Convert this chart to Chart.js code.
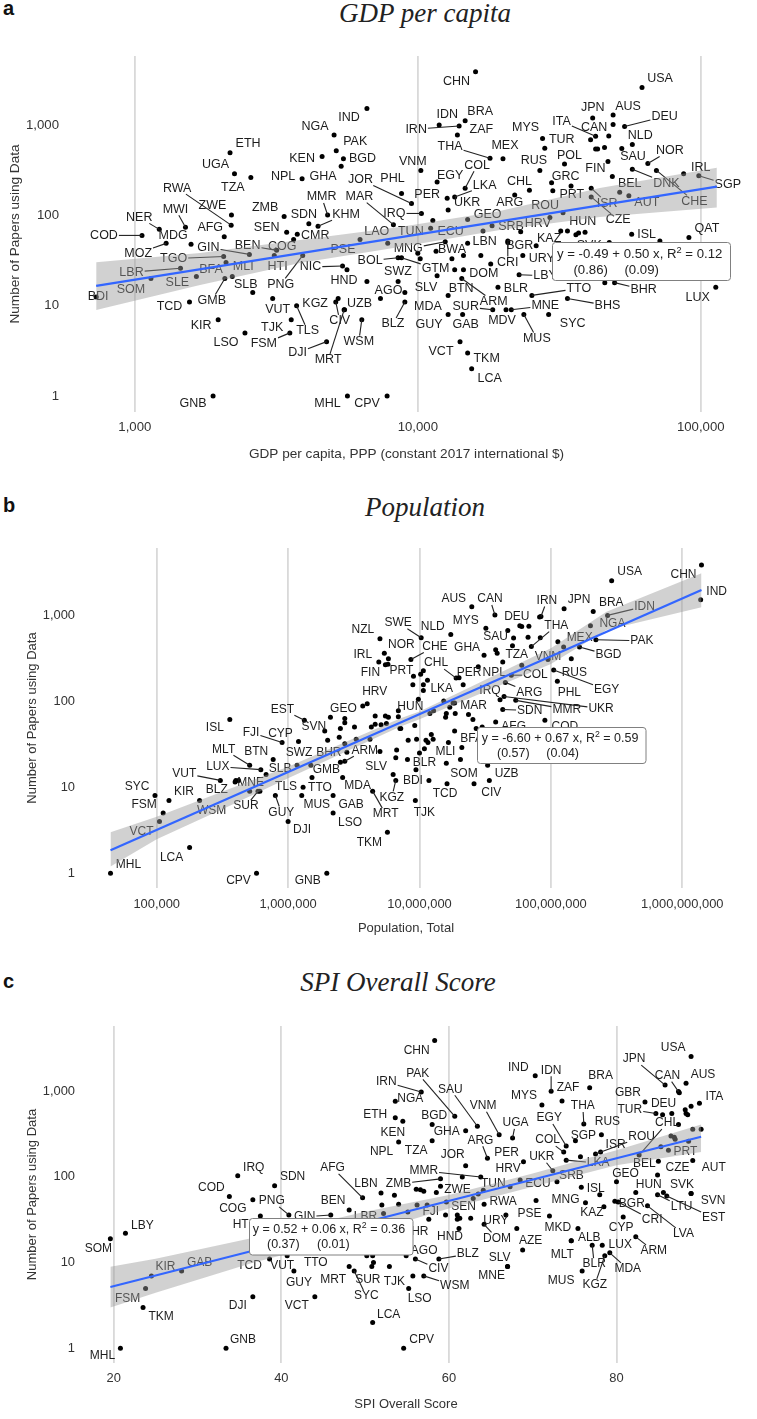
<!DOCTYPE html>
<html>
<head>
<meta charset="utf-8">
<title>Papers using data by country</title>
<script src="https://cdn.jsdelivr.net/npm/chart.js@4"></script>
<style>
  html, body { margin: 0; padding: 0; background: #fff; }
  body { position: relative; width: 757px; height: 1419px; overflow: hidden; }
  canvas { position: absolute; left: 0; }
  .titulo { position: absolute; font: italic 27px "Liberation Serif", serif; color: #222; white-space: nowrap; transform: translateX(-50%); line-height: 30px; }
  .letra { position: absolute; left: 3px; font: bold 20px "Liberation Sans", sans-serif; color: #111; line-height: 22px; }
</style>
</head>
<body>
<div class="letra" style="top:-3px">a</div>
<div class="titulo" style="left:425px;top:-2px">GDP per capita</div>
<canvas id="graficaA" width="757" height="475" style="top:0"></canvas>
<div class="letra" style="top:494px">b</div>
<div class="titulo" style="left:425px;top:492px">Population</div>
<canvas id="graficaB" width="757" height="470" style="top:480px"></canvas>
<div class="letra" style="top:970px">c</div>
<div class="titulo" style="left:398px;top:967px">SPI Overall Score</div>
<canvas id="graficaC" width="757" height="469" style="top:950px"></canvas>

<script>
// Panel a: papers against GDP per capita
const gdpCodes = [
  "IND","NGA","ETH","PAK","KEN","BGD","UGA","GHA","NPL","TZA",
  "JOR","PHL","MMR","KHM","MAR","IRQ","RWA","ZWE","ZMB","SDN",
  "SEN","CMR","NER","MWI","AFG","COD","MDG","MOZ","GIN","TGO",
  "BEN","COG","HTI","PSE","LAO","PNG","LBR","BFA","MLI","SLE",
  "SOM","SLB","GMB","BDI","TCD","KIR","LSO","FSM","TJK","TLS",
  "VUT","KGZ","CIV","MRT","UZB","WSM","DJI","AGO","NIC","HND",
  "BOL","SWZ","","BLZ","MDA","SLV","CHN","USA","IDN","BRA",
  "IRN","ZAF","THA","MEX","MYS","TUR","JPN","AUS","DEU","ITA",
  "CAN","","","","","","NLD","","POL","RUS",
  "NOR","SAU","FIN","IRL","DNK","CHE","SGP","BEL","AUT","GRC",
  "CHL","PRT","","ISR","CZE","ARG","COL","LKA","EGY","PER",
  "UKR","VNM","GEO","ROU","HRV","SRB","ECU","TUN","HUN","",
  "","","","KAZ","","","LBN","BGR","URY","CRI",
  "","","BWA","","MNG","GTM","","","","DOM",
  "LBY","BTN","ARM","BLR","TTO","BHS","BHR","","SUR","MDV",
  "MNE","SYC","MUS","GUY","GAB","VCT","TKM","LCA","ISL","QAT",
  "LUX","","SVK","GNB","MHL","CPV",""
];
const gdpValues = [
  6610,5060,2170,5150,4590,5460,2250,5360,3900,2570,
  9500,8760,4800,4440,8200,10300,2190,2195,3370,4120,
  3440,3750,1220,1510,2070,1060,1580,1290,2540,2060,
  3170,3110,3640,6250,7830,3920,1450,2100,2210,1650,
  1140,2610,2080,730,1560,1970,2450,3530,3570,3730,
  3070,5230,5130,5490,5510,6340,4760,7380,5420,5620,
  8520,6610,8520,9000,9000,11700,16000,62000,11900,14700,
  14000,13800,18000,20000,27600,28100,41500,49000,53800,42500,
  49000,47300,40800,42500,43200,45700,57300,52600,33000,27000,
  65000,47000,48700,87000,57300,69700,98400,51700,55700,29700,
  24800,30000,34800,41000,41000,22000,14700,13500,11700,12700,
  12800,10250,15000,32600,29300,18300,11100,11300,32000,33800,
  36200,37000,39000,26200,23100,17000,15000,20800,23500,20800,
  16700,14500,11600,10000,12500,8760,13200,13500,14500,18100,
  22800,12800,14300,19200,25300,33800,49600,45800,18400,20500,
  21400,29000,23700,12800,14400,14100,15000,15500,57000,90800,
  113000,71700,47500,1890,5640,7790,10200
];
const gdpPapers = [
  1530,775,495,520,450,425,290,350,255,262,
  135,175,101,76,79,105,78,101,97,81,
  65,62,70,74,58,60,48,49,37,35,
  41,36,54,54,49,36,26,30,21,21,
  20,14,20,12.5,11,7,5,5,7,10,
  12,12,11,9,9,7,4,12,27.5,25,
  34,18.5,18.5,11,14,21.5,3900,2600,1000,1120,
  975,775,430,425,710,555,1200,1290,965,750,
  1015,755,690,545,545,565,610,550,370,315,
  375,395,270,290,325,315,275,180,165,230,
  190,187,212,200,160,168,200,160,235,155,
  115,315,90,107,95,77,72,88,67,67,
  61,64,65,46,66,67,49,52,36,50,
  36,36,40,38,51,34,33,25,25,29,
  22,13,20,16,13,12,18,18,9,9,
  9,8,8,8,8,4,3,2,62,57,
  16,52,50,1,1,1,33
];
const gdpLabelDx = [
  -18,-19,18,19,-20,19,-19,-18,-19,-18,
  -51,-9,-6,28,-34,-27,-54,-19,-19,-5,
  -20,18,-20,-10,-14,-38,-18,-28,-41,-50,
  -29,8,-16,-17,-11,-22,-49,-15,11,-19,
  -20,-7,-13,2,-20,-17,-19,-26,-19,11,
  5,-23,4,-16,15,-3,-29,8,-32,-3,
  -28,31,0,-12,23,-11,-19,18,8,15,
  -43,24,-40,2,-17,17,0,15,40,-34,
  -19,0,0,0,0,0,8,0,5,-6,
  22,25,-17,17,34,38,29,10,18,14,
  -10,19,0,16,27,-5,12,30,13,-20,
  19,-8,20,-18,-12,19,20,-22,22,0,
  0,0,0,13,0,0,17,12,19,0,
  0,0,16,0,-37,34,0,0,0,-7,
  26,13,32,18,47,40,29,0,-27,-4,
  34,24,13,-19,3,-19,19,18,15,18,
  -18,0,-20,-20,-20,-20,0
];
const gdpLabelDy = [
  9,-9,-9,-9,2,0,-9,10,-2,10,
  -24,-15,-18,-12,-28,0,-37,-9,-9,-9,
  -5,1,-12,-18,-9,0,-9,10,-7,2,
  -5,-9,27,10,-12,29,4,7,-10,6,
  11,-8,22,0,5,6,10,11,8,25,
  11,5,19,50,-6,22,11,-8,1,11,
  3,-10,0,22,14,12,10,-9,-11,-9,
  3,-6,-12,-13,-11,-9,-10,-9,-10,-15,
  3,0,0,0,0,0,-9,0,-9,-10,
  -13,-5,-8,-6,14,31,9,-9,7,-6,
  -9,4,0,15,23,8,-23,-11,-6,-4,
  -7,-9,-5,-7,6,1,3,11,-10,0,
  0,0,0,-7,0,0,-2,5,3,20,
  0,0,-2,0,7,11,0,0,0,10,
  1,-7,23,1,-7,7,7,0,-3,11,
  -4,9,24,10,10,10,6,10,0,-9,
  10,0,3,8,8,8,0
];
const gdpLeaders = ["COD","NER","MWI","RWA","MMR","KHM","MAR","IRQ","JOR","MOZ","GIN","TGO","BEN","PNG","LBR","GMB","FSM","TLS","CIV","MRT","WSM","DJI","NIC","BOL","BLZ","IRN","THA","DEU","ITA","NOR","DNK","CHE","SGP","ISR","CZE","COL","LKA","CRI","MNG","GTM","LBY","ARM","TTO","BHS","BHR","SUR","MNE","MUS"];
const gdpTicks = [1000, 10000, 100000];
const gdpFitX = [730, 114000];
const gdpFitY = [16.6, 208];
const gdpBandX = [730, 1700, 3830, 8640, 19500, 44000, 114000];
const gdpBandHigh = [30.3, 38.4, 53.4, 74.4, 112, 201, 337];
const gdpBandLow = [8.96, 17, 29.7, 44.7, 68.9, 96, 122];

// Panel b: papers against population
const popCodes = [
  "NZL","SWE","NOR","IRL","","FIN","","PRT","HRV","",
  "GEO","","","","","","","","HUN","",
  "","","","","","","","","","",
  "","ISL","EST","SVN","CYP","FJI","BTN","SWZ","BHR","ARM",
  "","","","","MLT","LUX","SLB","GMB","SLV","KGZ",
  "VUT","","","BLZ","MNE","SUR","","TLS","TTO","MUS",
  "GAB","LSO","MDA","MRT","GUY","DJI","TKM","SYC","FSM","KIR",
  "WSM","VCT","LCA","MHL","CPV","GNB","USA","CHN","IND","BRA",
  "JPN","IDN","IRN","","AUS","CAN","DEU","","","NLD",
  "MYS","","SAU","","THA","","","MEX","","NGA",
  "PAK","BGD","VNM","RUS","EGY","PHL","COL","ARG","UKR","MMR",
  "SDN","IRQ","NPL","TZA","","GHA","","","PER","CHL",
  "","CHE","","","","","","","LKA","",
  "","","","","","","","MAR","","AFG",
  "COD","","","BFA","","","","","","",
  "","","","","MLI","","","","BLR","",
  "BDI","SOM","TCD","UZB","CIV","TJK"
];
const popValues = [
  5e6,10.3e6,5.4e6,4.9e6,5.8e6,5.5e6,5.75e6,9e6,3.7e6,4e6,
  2.1e6,2.7e6,2.7e6,3.2e6,4.6e6,5.5e6,5.8e6,6.9e6,9.8e6,6.9e6,
  4.3e6,4.6e6,5.1e6,5.6e6,7.1e6,2.5e6,2e6,2.45e6,2.7e6,3.3e6,
  4.2e6,3.6e5,1.33e6,1.9e6,1.2e6,9e5,7.7e5,1.17e6,1.49e6,2.7e6,
  2.8e6,5e6,6.7e6,6.6e6,5.1e5,6.2e5,6.8e5,2.5e6,6.3e6,6.6e6,
  3.05e5,3.95e5,4.2e5,4e5,5.1e5,5.9e5,6.1e5,1.3e6,1.52e6,1.27e6,
  2.2e6,2.2e6,2.6e6,4.4e6,8e5,1e6,5.7e6,9.7e4,1.12e5,1.24e5,
  2.12e5,1.05e5,1.78e5,4.45e4,5.75e5,1.97e6,290e6,1400e6,1380e6,210e6,
  126e6,270e6,84e6,82e6,25e6,37.5e6,58e6,60e6,68e6,17.3e6,
  32e6,47e6,52e6,67e6,71e6,83e6,113e6,125e6,51e6,200e6,
  220e6,165e6,95e6,143e6,105e6,112e6,50e6,45e6,44e6,54e6,
  43e6,41e6,28e6,43e6,60e6,31e6,38e6,39e6,21.5e6,19e6,
  20e6,8.6e6,10.2e6,10.7e6,11.5e6,8.9e6,10.7e6,10.7e6,15.3e6,18e6,
  18.5e6,17e6,16e6,15.8e6,18.7e6,12.8e6,12e6,23.6e6,25.5e6,38e6,
  90e6,30e6,27e6,18.5e6,9.2e6,7.2e6,8.2e6,9.5e6,11.2e6,12.3e6,
  11.6e6,12.7e6,10.9e6,10e6,16.6e6,21e6,16e6,20.5e6,8.1e6,9.4e6,
  11.8e6,26e6,16.2e6,33e6,34e6,9.3e6
];
const popPapers = [
  530,545,360,285,310,265,268,195,88,93,
  65,63,56,50,67,67,65,77,105,66,
  50,54,53,55,48,48,35,38,32,36,
  36,61,60,45,34,33,21,18,18,20,
  25.5,26,27,22,18,16,14,19.5,14,12,
  12,11.5,12,12,9,9,9,10,13,8,
  8,5,13,9,8,4,3,8,5,7,
  7,4,2,1,1,1,2500,3800,1500,1100,
  1180,990,960,950,1250,1000,750,735,740,595,
  700,660,540,550,430,545,490,425,440,750,
  515,425,305,310,230,170,200,165,113,102,
  80,104,250,285,260,340,395,360,155,185,
  187,305,205,225,175,155,155,133,100,95,
  95,85,72,65,72,77,72,70,61,57,
  60,50,48,45,52,48,35,36,35,41,
  33,36,28,25,33,29,19,21,21,16,
  12,11,11,18,12,7
];
const popLabelDx = [
  -17,-23,17,-16,0,-15,0,-12,12,0,
  13,0,0,0,0,0,0,0,-8,0,
  0,0,0,0,0,0,0,0,0,0,
  0,-15,-22,-11,-18,-31,-17,2,18,20,
  0,0,0,0,-26,-43,14,-14,-17,-4,
  -36,0,0,-19,1,-12,0,-17,8,15,
  18,17,15,13,6,14,-18,-18,-19,15,
  12,-18,-18,18,-18,-19,18,-18,16,18,
  15,37,6,0,-18,-5,-3,0,0,-18,
  -20,0,-18,0,25,0,0,16,0,22,
  46,29,0,3,53,12,24,24,97,51,
  27,-10,16,14,0,-17,0,0,6,-20,
  0,24,0,0,0,0,0,0,-2,0,
  0,0,0,0,0,0,0,5,0,18,
  20,0,0,17,0,0,0,0,0,0,
  0,0,0,0,-3,0,0,0,17,0,
  -16,-10,-2,19,2,9
];
const popLabelDy = [
  -9,-15,-9,-7,0,8,0,-5,-14,0,
  -9,0,0,0,0,0,0,0,7,0,
  0,0,0,0,0,0,0,0,0,0,
  0,8,-11,-4,-8,-10,-8,-13,-13,-11,
  0,0,0,0,-16,-3,-6,7,-8,17,
  -7,0,0,9,-8,15,0,-1,10,9,
  9,10,8,23,17,8,10,-9,-8,-9,
  10,10,10,-9,7,7,-9,10,-8,-9,
  -9,-9,-16,0,-8,-16,-9,0,0,-8,
  -8,0,-1,0,-21,0,0,-9,0,-2,
  1,8,-3,14,20,11,0,10,12,9,
  1,-9,6,-7,0,-8,0,0,-12,-15,
  0,-13,0,0,0,0,0,0,-12,0,
  0,0,0,0,0,0,0,-9,0,5,
  6,0,0,8,0,0,0,0,0,0,
  0,0,0,0,9,0,0,0,3,0,
  0,-10,10,8,12,12
];
const popLeaders = ["SWE","EST","FJI","ARM","MLT","LUX","SUR","MRT","KGZ","GUY","VUT","IDN","IRN","CAN","THA","PAK","BGD","EGY","COL","ARG","UKR","MMR","SDN","CHL","CHE"];
const popTicks = [1e5, 1e6, 1e7, 1e8, 1e9];
const popFitX = [44500, 1400e6];
const popFitY = [1.85, 1950];
const popBandX = [44500, 1e5, 3.4e5, 1e6, 7.1e6, 1e7, 1e8, 265e6, 1400e6];
const popBandHigh = [3, 4.55, 9.3, 17.3, 63, 75.5, 410, 1094, 3050];
const popBandLow = [1.2, 2.48, 5.84, 12.7, 50.5, 61.5, 270, 670, 1230];

// Panel c: papers against SPI overall score
const spiCodes = [
  "IRN","NGA","ETH","KEN","NPL","IRQ","SDN","COD","AFG","LBN",
  "","ZMB","PNG","COG","BEN","GIN","LBR","","","HTI",
  "LBY","SOM","KIR","GAB","FSM","TKM","DJI","VCT","GNB","MHL",
  "TCD","VUT","GUY","TTO","MRT","SYC","SUR","","TJK","",
  "","AGO","LCA","CHN","USA","IND","IDN","BRA","ZAF","MYS",
  "PAK","SAU","BGD","GHA","VNM","UGA","TZA","ARG","PER","JOR",
  "HRV","MMR","TUN","","ZWE","","","","","",
  "","","","","RWA","SEN","FJI","BHR","","",
  "","","HND","URY","DOM","PSE","MKD","","AZE","ALB",
  "BLZ","CIV","WSM","","LSO","CPV","SLV","MNE","MUS","BLR",
  "LUX","MLT","KGZ","MDA","ARM","CYP","KAZ","MNG","ISL","",
  "ECU","","UKR","LKA","SRB","","COL","EGY","THA","SGP",
  "RUS","ISR","ROU","JPN","CAN","","AUS","ITA","GBR","DEU",
  "TUR","","","","","","CHL","","","",
  "","","","","PRT","","BEL","AUT","CZE","GEO",
  "HUN","SVK","SVN","","LTU","EST","BGR","CRI","LVA"
];
const spiValues = [
  56.7,53.6,53.6,54.5,54,34.8,39.2,33.8,49.7,51.9,
  53.5,59,40.9,36.6,48.1,45.9,52.2,52,54,37.5,
  21.4,19.6,24.5,28.1,23.8,23.5,36.6,44,33.4,20.8,
  38.6,40.7,41.5,42.8,48.1,48.7,50.8,51,52.9,50.2,
  50.9,54.9,50.9,58.3,88.9,70.3,72.2,76.8,73.5,71.1,
  60.7,63.4,58,62,66,67.6,58,64.6,68.9,62,
  68.5,63.8,64.1,61.6,59,56.1,56.6,57,58.5,56.2,
  57.4,59.7,62.9,63.5,64.2,59.6,57.6,55.1,61,61.3,
  61,62.6,61.2,66.8,64.2,72,75.4,68.1,68.8,74.6,
  58.8,56,57,55.7,55.2,54.6,67,67,75.9,77.1,
  78.3,74.6,78.6,79.2,82.3,80.8,78.5,76.3,78,75.8,
  72.9,70.4,72.4,74,75.7,67.3,73.7,74,76.1,75.1,
  78.2,78.1,77.5,85.8,87.4,87.5,88.3,89.9,83.4,85.5,
  84.7,86.6,88.2,88.9,88.3,88.5,82.7,87.4,86.5,86.9,
  87,89.1,90.1,85.3,86.2,88.6,85,89.1,84.9,80,
  82.3,88.9,88.9,85.6,84.9,86,79.8,80.2,83.7
];
const spiPapers = [
  980,765,490,445,255,103,79,59,57,65,
  61,95,36,54,41,36,37.5,47,48,35,
  22,19,7,8,5,3,4,4,1,1,
  11,12,8,15,9,8,9,10,9,12,
  12,12,2,3900,2550,1520,1000,1100,770,690,
  510,390,410,345,310,285,265,165,150,135,
  92,100,70,100,78,72,71,68,66,47,
  47,51,56,63,48,36,32,39,36,33,
  32,33,25,36,28,35,25,25,14,18,
  11,11,7,7,5,1,9,9,8,16,
  16,18,12,13,20,34,45,50,62,76,
  88,53,118,157,172,77,195,230,415,265,
  310,195,185,1180,990,960,1240,725,750,530,
  550,550,610,670,550,530,180,410,300,290,
  275,360,360,225,205,260,152,155,105,88,
  66,64,64,66,62,60,52,51,46
];
const spiLabelDx = [
  -35,15,-20,-10,-17,16,18,-18,-30,-15,
  0,-42,-17,-20,-16,-26,-18,0,0,-18,
  17,-12,14,18,-18,18,-15,-18,17,-18,
  -20,-5,5,11,-16,12,-4,0,5,0,
  0,18,16,-18,-18,-17,0,11,6,-18,
  -37,-27,2,-19,-16,3,-16,-7,-17,-13,
  -12,-57,10,0,17,0,0,0,0,0,
  0,0,0,0,19,18,2,8,0,0,
  0,0,-9,-10,13,-20,-20,0,8,18,
  29,23,31,0,11,18,-8,-16,-21,2,
  18,-9,-10,18,18,-2,-12,-20,-4,0,
  -19,0,-11,32,-9,0,-16,-17,-1,8,
  6,15,46,-31,-11,0,17,15,-17,1,
  -26,0,0,0,0,0,28,0,0,0,
  0,0,0,0,17,0,-14,21,20,9,
  13,-9,22,0,24,47,17,34,36
];
const spiLabelDy = [
  -10,-3,-3,11,10,-8,-9,-9,-30,-9,
  0,5,-14,9,-9,2,3,0,0,9,
  -8,10,-9,-8,10,9,9,9,-9,7,
  7,10,12,15,13,25,13,0,15,0,
  0,-5,-8,10,-9,-8,-21,-12,-13,-9,
  -43,-37,-9,1,-29,-15,10,-18,-9,-11,
  -11,-6,-7,0,4,0,0,0,0,0,
  0,0,0,0,-3,-8,-8,20,0,0,
  0,0,8,6,14,-2,-1,0,-9,-3,
  -5,10,10,0,10,-9,-9,9,10,19,
  0,14,29,16,14,11,6,-3,-6,0,
  2,0,-14,3,19,0,-12,-28,-18,-5,
  -13,-7,-17,-26,-16,0,-9,-7,-9,-11,
  -4,0,0,0,0,0,-32,0,0,0,
  0,0,0,0,1,0,2,7,-7,-8,
  -8,-9,7,0,12,22,2,18,28
];
const spiLeaders = ["IRN","AFG","ZMB","PNG","GIN","SYC","IDN","PAK","SAU","VNM","UGA","ARG","MMR","DOM","BLZ","CIV","WSM","BLR","KGZ","MDA","ARM","UKR","LKA","COL","EGY","THA","ROU","JPN","CAN","TUR","CHL","LTU","EST","CRI","LVA"];
const spiTicks = [20, 40, 60, 80];
const spiFitX = [19.6, 90.1];
const spiFitY = [5.2, 294];
const spiBandX = [19.6, 25, 36.4, 50, 60, 70, 80, 90.1];
const spiBandHigh = [8.96, 11.1, 19.3, 39.2, 61.4, 110, 205, 409];
const spiBandLow = [3, 4.46, 9.8, 21.9, 42.9, 76.7, 137, 196];

const paperTicks = [1, 10, 100, 1000];

function pares(xs, ys) {
  return xs.map((x, i) => ({ x: x, y: ys[i] }));
}

// Country codes and leader lines, painted right after the points so the
// band and the fit line sit on top of them
function pluginEtiquetas(cfg) {
  return {
    id: "etiquetas",
    afterDatasetDraw(chart, args) {
      if (args.index !== 0) return;
      const ctx = chart.ctx;
      const meta = chart.getDatasetMeta(0);
      ctx.save();
      ctx.font = cfg.labelSize + "px 'Liberation Sans'";
      ctx.textAlign = "center";
      ctx.textBaseline = "middle";
      cfg.codes.forEach((code, i) => {
        if (!code) return;
        const p = meta.data[i];
        const lx = p.x + cfg.dx[i];
        const ly = p.y + cfg.dy[i];
        const w = ctx.measureText(code).width;
        if (cfg.leaders.includes(code)) {
          const vx = p.x - lx;
          const vy = p.y - ly;
          const t = Math.min((w / 2 + 1) / Math.abs(vx || 1e-6), 6 / Math.abs(vy || 1e-6));
          ctx.beginPath();
          ctx.moveTo(lx + vx * t, ly + vy * t);
          ctx.lineTo(p.x, p.y);
          ctx.strokeStyle = "#222";
          ctx.lineWidth = 1.1;
          ctx.stroke();
        }
        ctx.fillStyle = "#1c1c1c";
        ctx.fillText(code, lx, ly);
      });
      ctx.restore();
    }
  };
}

// White rounded box with the regression equation
function pluginEcuacion(cfg) {
  const s = cfg.stat;
  return {
    id: "ecuacion",
    afterDatasetsDraw(chart) {
      const ctx = chart.ctx;
      ctx.save();
      ctx.beginPath();
      ctx.roundRect(s.left, s.top, s.width, s.height, 3);
      ctx.fillStyle = "#fff";
      ctx.fill();
      ctx.strokeStyle = "#808080";
      ctx.lineWidth = 1;
      ctx.stroke();
      ctx.fillStyle = "#222";
      ctx.textBaseline = "middle";
      ctx.textAlign = "left";
      ctx.font = s.size + "px 'Liberation Sans'";
      let x = s.textLeft;
      ctx.fillText(s.eq, x, s.line1);
      x += ctx.measureText(s.eq).width;
      const resto = " = " + s.r2;
      ctx.font = (s.size * 0.7) + "px 'Liberation Sans'";
      ctx.fillText("2", x, s.line1 - 4);
      x += ctx.measureText("2").width;
      ctx.font = s.size + "px 'Liberation Sans'";
      ctx.fillText(resto, x, s.line1);
      ctx.textAlign = "center";
      ctx.fillText(s.se[0], s.seX[0], s.line2);
      ctx.fillText(s.se[1], s.seX[1], s.line2);
      ctx.restore();
    }
  };
}

function dibujarPanel(cfg) {
  const tickFont = { family: "Liberation Sans", size: cfg.tickSize };
  const titleFont = { family: "Liberation Sans", size: cfg.titleSize };
  const puntos = pares(cfg.x, cfg.y);

  new Chart(document.getElementById(cfg.id), {
    type: "scatter",
    data: {
      datasets: [
        { data: puntos, order: 3, pointRadius: 2.5, pointBackgroundColor: "#000", pointBorderWidth: 0, showLine: false },
        { data: pares(cfg.bandX, cfg.bandHigh), order: 2, showLine: true, pointRadius: 0, borderWidth: 0, tension: 0, fill: "+1", backgroundColor: "rgba(153,153,153,0.45)" },
        { data: pares(cfg.bandX, cfg.bandLow), order: 2, showLine: true, pointRadius: 0, borderWidth: 0, tension: 0, fill: false },
        { data: pares(cfg.fitX, cfg.fitY), order: 1, showLine: true, pointRadius: 0, borderColor: "#3366ff", borderWidth: 2.2, fill: false }
      ]
    },
    options: {
      responsive: false,
      animation: false,
      layout: { padding: { left: 0, top: cfg.plotTop, right: 757 - cfg.plotRight, bottom: 0 } },
      plugins: { legend: { display: false }, tooltip: { enabled: false } },
      scales: {
        x: {
          type: cfg.xType,
          min: cfg.xMin,
          max: cfg.xMax,
          border: { display: false },
          grid: { color: "#d9d9d9", lineWidth: 1.8, drawTicks: false },
          ticks: {
            autoSkip: false, maxRotation: 0, minRotation: 0, padding: cfg.xTickPad,
            color: "#333", font: tickFont,
            callback: v => v.toLocaleString("en-US")
          },
          afterBuildTicks(scale) { scale.ticks = cfg.xTicks.map(v => ({ value: v })); },
          afterFit(scale) { scale.height = cfg.height - cfg.plotBottom; },
          title: { display: true, text: cfg.xTitle, color: "#333", font: titleFont, padding: { top: 0, bottom: cfg.xTitlePad } }
        },
        y: {
          type: "logarithmic",
          min: cfg.yMin,
          max: cfg.yMax,
          border: { display: false },
          grid: { display: false, drawTicks: false },
          ticks: {
            autoSkip: false, padding: cfg.yTickPad,
            color: "#333", font: tickFont,
            callback: v => v.toLocaleString("en-US")
          },
          afterBuildTicks(scale) { scale.ticks = paperTicks.map(v => ({ value: v })); },
          afterFit(scale) { scale.width = cfg.plotLeft; },
          title: { display: true, text: "Number of Papers using Data", color: "#333", font: titleFont, padding: { top: cfg.yTitlePad, bottom: 0 } }
        }
      }
    },
    plugins: [pluginEtiquetas(cfg), pluginEcuacion(cfg)]
  });
}

dibujarPanel({
  id: "graficaA", height: 475, plotLeft: 80, plotRight: 733, plotTop: 56, plotBottom: 412,
  xType: "logarithmic", xMin: 640, xMax: 130000, yMin: 0.665, yMax: 5820,
  xTicks: gdpTicks, xTitle: "GDP per capita, PPP (constant 2017 international $)",
  x: gdpValues, y: gdpPapers, codes: gdpCodes, dx: gdpLabelDx, dy: gdpLabelDy, leaders: gdpLeaders,
  fitX: gdpFitX, fitY: gdpFitY, bandX: gdpBandX, bandHigh: gdpBandHigh, bandLow: gdpBandLow,
  labelSize: 12.5, tickSize: 13.2, titleSize: 13.6, xTickPad: 7.5, yTickPad: 21, xTitlePad: 12.8, yTitlePad: 6.8,
  stat: { left: 552.5, top: 242.5, width: 178, height: 38, textLeft: 557, line1: 254.7, line2: 270.7, size: 13.2,
          eq: "y = -0.49 + 0.50 x, R", r2: "0.12", se: ["(0.86)", "(0.09)"], seX: [590.7, 641.7] }
});

dibujarPanel({
  id: "graficaB", height: 470, plotLeft: 88, plotRight: 724, plotTop: 68, plotBottom: 408,
  xType: "logarithmic", xMin: 30000, xMax: 2.077e9, yMin: 0.675, yMax: 6000,
  xTicks: popTicks, xTitle: "Population, Total",
  x: popValues, y: popPapers, codes: popCodes, dx: popLabelDx, dy: popLabelDy, leaders: popLeaders,
  fitX: popFitX, fitY: popFitY, bandX: popBandX, bandHigh: popBandHigh, bandLow: popBandLow,
  labelSize: 12, tickSize: 12.9, titleSize: 13, xTickPad: 8.5, yTickPad: 13, xTitlePad: 14.2, yTitlePad: 25,
  stat: { left: 477.5, top: 247.5, width: 168.5, height: 36, textLeft: 481.7, line1: 258.7, line2: 274, size: 12.5,
          eq: "y = -6.60 + 0.67 x, R", r2: "0.59", se: ["(0.57)", "(0.04)"], seX: [513.3, 562.7] }
});

dibujarPanel({
  id: "graficaC", height: 469, plotLeft: 88, plotRight: 724, plotTop: 76, plotBottom: 413,
  xType: "linear", xMin: 16.93, xMax: 92.83, yMin: 0.674, yMax: 5770,
  xTicks: spiTicks, xTitle: "SPI Overall Score",
  x: spiValues, y: spiPapers, codes: spiCodes, dx: spiLabelDx, dy: spiLabelDy, leaders: spiLeaders,
  fitX: spiFitX, fitY: spiFitY, bandX: spiBandX, bandHigh: spiBandHigh, bandLow: spiBandLow,
  labelSize: 12, tickSize: 12.9, titleSize: 13, xTickPad: 7.5, yTickPad: 13, xTitlePad: 7.2, yTitlePad: 25,
  stat: { left: 249.5, top: 268.5, width: 163.5, height: 36.5, textLeft: 252.7, line1: 279.3, line2: 294.7, size: 12.5,
          eq: "y = 0.52 + 0.06 x, R", r2: "0.36", se: ["(0.37)", "(0.01)"], seX: [283.3, 333.3] }
});
</script>
</body>
</html>
